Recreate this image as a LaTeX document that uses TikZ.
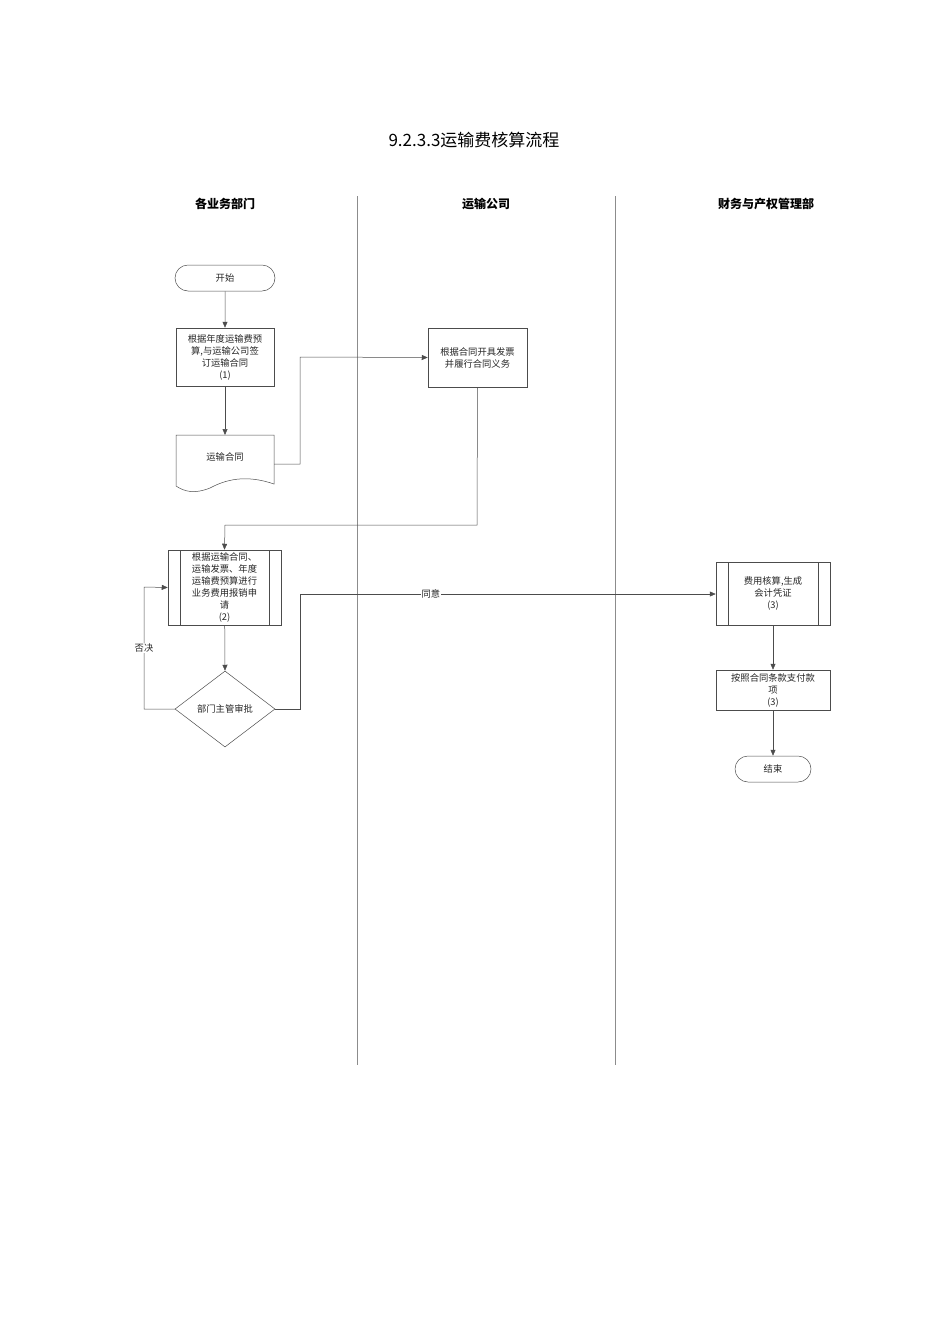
\documentclass[tikz,border=0pt]{standalone}
\usepackage{fontspec}
\setmainfont{Noto Sans CJK SC}
\usetikzlibrary{shapes.geometric,shapes.misc,arrows.meta}
\begin{document}
\begin{tikzpicture}[x=1pt,y=-1pt,
  ln/.style={draw=black!70,line width=0.5pt},
  ar/.style={ln,-{Triangle[length=6pt,width=5pt]}},
  txt/.style={font=\fontsize{9.3}{12}\selectfont,align=center,text=black!85},
  boxs/.style={ln,fill=white,txt},
  term/.style={ln,rounded rectangle,rounded rectangle arc length=180,minimum width=#1,minimum height=26pt,inner xsep=0pt,txt},
  hdr/.style={font=\bfseries\fontsize{12}{14}\selectfont}]
\useasboundingbox (0,0) rectangle (950,1344);
\node[font=\fontsize{17}{20}\selectfont] (title) at (474,140) {9.2.3.3运输费核算流程};
\node[hdr] (h1) at (225,204) {各业务部门};
\node[hdr] (h2) at (486,204) {运输公司};
\node[hdr] (h3) at (766,204) {财务与产权管理部};
\draw[ln,draw=black!45] (357,196) -- (357,1065);
\draw[ln,draw=black!45] (615,196) -- (615,1065);
\node[term=100pt] (start) at (225,278) {开始};
\node[boxs,minimum width=98pt,minimum height=58pt,inner sep=1pt] (b1) at (225,357) {根据年度运输费预\\算,与运输公司签\\订运输合同\\(1)};
\draw[ln,fill=white] (176,435) -- (274,435) -- (274,484) .. controls (245,474) and (225,480) .. (210,488) .. controls (195,494) and (185,492) .. (176,486) -- cycle;
\node[txt] (doc) at (225,457) {运输合同};
\coordinate (docr) at (274,464);
\node[boxs,minimum width=99pt,minimum height=59pt] (bt) at (477.5,357.5) {根据合同开具发票\\并履行合同义务};
\node[boxs,minimum width=113pt,minimum height=75pt,inner sep=0pt] (b2) at (224.5,587.5) {根据运输合同、\\运输发票、年度\\运输费预算进行\\业务费用报销申\\请\\(2)};
\draw[ln] (180,550) -- (180,625) (269,550) -- (269,625);
\node[ln,diamond,aspect=1.32,minimum width=100pt,minimum height=76pt,inner sep=0pt,txt] (dm) at (225,709) {部门主管审批};
\node[boxs,minimum width=114pt,minimum height=63pt] (f1) at (773,593.5) {费用核算,生成\\会计凭证\\(3)};
\draw[ln] (728,562) -- (728,625) (818,562) -- (818,625);
\node[boxs,minimum width=114pt,minimum height=40pt,inner sep=0pt] (f2) at (773,690) {按照合同条款支付款\\项\\(3)};
\node[term=76pt] (end) at (773,769) {结束};
\draw[ar] (start) -- (b1);
\draw[ar] (b1) -- (225,435);
\draw[ar] (docr) -- (300,464) -- (300,357) -- (bt.west);
\draw[ar] (bt.south) -- (477,525) -- (225,525) -- (b2.north);
\draw[ar] (b2) -- (dm.north);
\draw[ar] (dm.east) -- (300,709) -- (300,594) -- node[pos=0.315,fill=white,txt,inner sep=1pt] (ok) {同意} (f1.west |- 0,594);
\draw[ar] (dm.west) -- (144,709) -- node[pos=0.5,fill=white,txt,inner sep=1pt] (no) {否决} (144,587) -- (b2.west);
\draw[ar] (f1) -- (f2);
\draw[ar] (f2) -- (end);
\end{tikzpicture}
\end{document}
